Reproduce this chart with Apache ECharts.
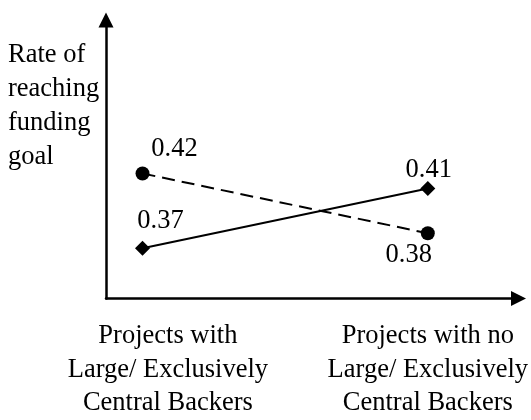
<!DOCTYPE html>
<html>
<head>
<meta charset="utf-8">
<script src="https://cdn.jsdelivr.net/npm/echarts@6/dist/echarts.min.js"></script>
<style>
  html, body { margin: 0; padding: 0; background: #fff; }
  #chart { width: 531px; height: 420px; }
</style>
</head>
<body>
<div id="chart"></div>
<script>
// categories on the x axis
var categories = ['Projects with\nLarge/ Exclusively\nCentral Backers', 'Projects with no\nLarge/ Exclusively\nCentral Backers'];
// circle markers, dashed line
var circleValues = [0.42, 0.38];
// diamond markers, solid line
var diamondValues = [0.37, 0.41];
var yTitle = 'Rate of\nreaching\nfunding\ngoal';

// label offsets around each point (style only)
var circleLabelOffset = [[32, -24], [-19, 22]];
var diamondLabelOffset = [[18, -27], [1, -18]];

var font = '"Liberation Serif", "Times New Roman", serif';
var fs = 26.5;

function buildData(values, offsets) {
    var out = [];
    for (var i = 0; i < values.length; i++) {
        out.push({
            value: [i, values[i]],
            label: { offset: offsets[i] }
        });
    }
    return out;
}

var option = {
    animation: false,
    backgroundColor: '#fff',
    title: {
        text: yTitle,
        left: 8,
        top: 38,
        padding: 0,
        textStyle: {
            fontFamily: font,
            fontSize: fs,
            fontWeight: 'normal',
            lineHeight: 34,
            color: '#000'
        }
    },
    grid: {
        left: 106,
        right: 11.5,
        top: 20,
        bottom: 119,
        containLabel: false
    },
    xAxis: {
        type: 'value',
        min: -0.128,
        max: 1.318,
        splitLine: { show: false },
        axisTick: { show: false },
        axisLine: {
            onZero: false,
            symbol: ['none', 'triangle'],
            symbolSize: [15, 15],
            lineStyle: { color: '#000', width: 2.5 }
        },
        axisLabel: {
            customValues: [0.089, 1.0],
            formatter: function (v) {
                return v < 0.5 ? categories[0] : categories[1];
            },
            margin: 21,
            fontFamily: font,
            fontSize: fs,
            lineHeight: 33.5,
            color: '#000'
        }
    },
    yAxis: {
        type: 'value',
        min: 0.3364,
        max: 0.5226,
        splitLine: { show: false },
        axisTick: { show: false },
        axisLabel: { show: false },
        axisLine: {
            show: true,
            onZero: false,
            symbol: ['none', 'triangle'],
            symbolSize: [15, 15],
            lineStyle: { color: '#000', width: 2.5 }
        }
    },
    series: [{
        name: 'circle',
        type: 'line',
        symbol: 'circle',
        symbolSize: 14,
        itemStyle: { color: '#000' },
        lineStyle: { color: '#000', width: 2, type: [13, 7] },
        label: {
            show: true,
            position: 'inside',
            fontFamily: font,
            fontSize: fs,
            color: '#000',
            formatter: function (p) { return p.value[1].toFixed(2); }
        },
        data: buildData(circleValues, circleLabelOffset)
    }, {
        name: 'diamond',
        type: 'line',
        symbol: 'diamond',
        symbolSize: 15,
        itemStyle: { color: '#000' },
        lineStyle: { color: '#000', width: 2, type: 'solid' },
        label: {
            show: true,
            position: 'inside',
            fontFamily: font,
            fontSize: fs,
            color: '#000',
            formatter: function (p) { return p.value[1].toFixed(2); }
        },
        data: buildData(diamondValues, diamondLabelOffset)
    }]
};

var myChart = echarts.init(document.getElementById('chart'));
myChart.setOption(option);
</script>
</body>
</html>
